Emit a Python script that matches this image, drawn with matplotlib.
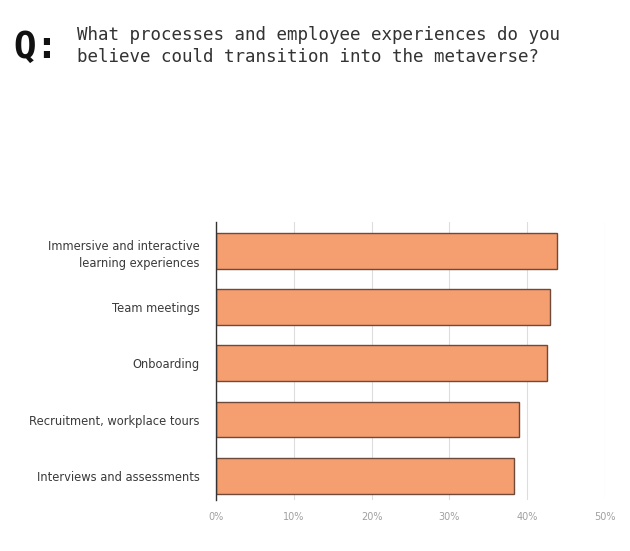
import numpy as np
import matplotlib.pyplot as plt

categories = ["Immersive and interactive\nlearning experiences", "Team meetings",
              "Onboarding", "Recruitment, workplace tours", "Interviews and assessments"]
values = [43.8, 42.9, 42.6, 38.9, 38.3]
ticks = [0, 10, 20, 30, 40, 50]
tick_labels = ["0%", "10%", "20%", "30%", "40%", "50%"]

fig = plt.figure(figsize=(6.3, 5.51), dpi=100)
ax = fig.add_axes([0.343, 0.093, 0.617, 0.504])

y = np.arange(len(categories))
ax.barh(y, values, height=0.64, color="#F59E70", edgecolor="#6e4a3a", linewidth=1.0, zorder=3)
ax.set_ylim(4.43, -0.52)
ax.set_xlim(0, 50)
ax.set_xticks(ticks)
ax.set_xticklabels(tick_labels, color="#a0a0a0", fontsize=7)
ax.set_yticks(y)
ax.set_yticklabels(categories, fontsize=8.3, color="#3a3a3a", ha="right", linespacing=1.45)
ax.tick_params(axis="both", length=0, pad=9)
ax.tick_params(axis="y", pad=12)
ax.grid(axis="x", color="#dddddd", linewidth=0.8, zorder=0)
for s in ["top", "right", "bottom"]:
    ax.spines[s].set_visible(False)
ax.spines["left"].set_color("#333333")
ax.spines["left"].set_linewidth(1.0)
ax.spines["left"].set_zorder(4)

fig.text(0.022, 0.913, "Q:", fontsize=27, fontweight="bold", family="DejaVu Sans Mono",
         color="#111111", va="center")
fig.text(0.122, 0.937, "What processes and employee experiences do you",
         fontsize=12.6, family="DejaVu Sans Mono", color="#333333", va="center")
fig.text(0.122, 0.897, "believe could transition into the metaverse?",
         fontsize=12.6, family="DejaVu Sans Mono", color="#333333", va="center")

fig.savefig("out.png", dpi=100, facecolor="white")
